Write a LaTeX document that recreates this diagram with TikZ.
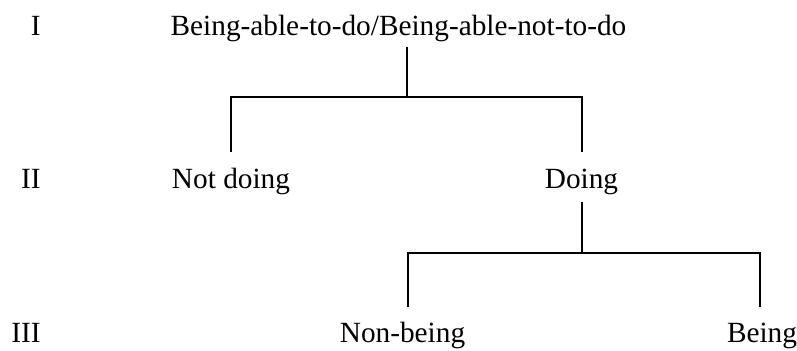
\documentclass[tikz,border=0pt]{standalone}
\usepackage{fontspec}
\setmainfont{Liberation Serif}
\begin{document}
\begin{tikzpicture}[x=0.5pt,y=-0.5pt,
  lbl/.style={inner sep=0pt,anchor=base,font=\fontsize{14.65}{17}\selectfont},
  row/.style={lbl,anchor=base east},
  tree/.style={line width=1pt}]
\useasboundingbox (0,0) rectangle (797,351);
\node[lbl] (top) at (398.5,35.5) {Being-able-to-do/Being-able-not-to-do};
\node[row] (r1) at (41,35.5) {I};
\node[lbl] (nd) at (231,188.5) {Not doing};
\node[lbl] (d) at (581.5,189) {Doing};
\node[row] (r2) at (41,189) {II};
\node[lbl] (nb) at (402.5,342.5) {Non-being};
\node[lbl] (b) at (762,343) {Being};
\node[row] (r3) at (41,343) {III};
\coordinate (t0) at (407,47);
\coordinate (t1) at (407,97);
\coordinate (tl) at (231,97);
\coordinate (tr) at (582,97);
\coordinate (tle) at (231,152);
\coordinate (tre) at (582,152);
\coordinate (d0) at (582,202);
\coordinate (d1) at (582,253.5);
\coordinate (dl) at (408,253.5);
\coordinate (dr) at (760,253.5);
\coordinate (dle) at (408,307);
\coordinate (dre) at (760,307);
\draw[tree] (t0) -- (t1);
\draw[tree] (tle) -- (tl) -- (tr) -- (tre);
\draw[tree] (d0) -- (d1);
\draw[tree] (dle) -- (dl) -- (dr) -- (dre);
\end{tikzpicture}
\end{document}
